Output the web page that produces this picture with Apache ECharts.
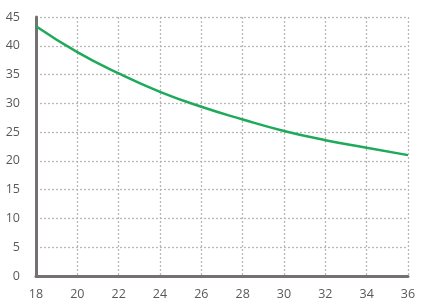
<!DOCTYPE html>
<html><head><meta charset="utf-8">
<script src="https://cdn.jsdelivr.net/npm/echarts@6/dist/echarts.min.js"></script>
<style>html,body{margin:0;padding:0;background:#fff}#c{width:422px;height:307px}</style>
</head><body><div id="c"></div>
<script>
const xValues = [18, 20, 22, 24, 26, 28, 30, 32, 34, 36];
const yValues = [43.4, 38.9, 35.2, 32.0, 29.4, 27.2, 25.2, 23.6, 22.3, 21.0];
const chart = echarts.init(document.getElementById('c'));
const axisLabel = {color:'#595959', fontSize:12.5, fontFamily:'Open Sans'};
const split = {show:true, lineStyle:{color:'#b8b8b8', type:[2,2], width:1.3}};
chart.setOption({
  animation:false,
  grid:{left:36, right:14, top:17, bottom:31},
  xAxis:{type:'value', min:18, max:36, interval:2,
    axisLine:{show:true, onZero:false, lineStyle:{color:'#767171', width:3}},
    axisTick:{show:false}, axisLabel:Object.assign({margin:12}, axisLabel), splitLine:split},
  yAxis:{type:'value', min:0, max:45, interval:5,
    axisLine:{show:true, lineStyle:{color:'#767171', width:3}},
    axisTick:{show:false}, axisLabel:Object.assign({margin:16}, axisLabel), splitLine:split},
  series:[{type:'line', smooth:true, showSymbol:false,
    data:xValues.map((x,i)=>[x,yValues[i]]),
    lineStyle:{color:'#1eaa5a', width:2.5}}]
});
</script></body></html>
